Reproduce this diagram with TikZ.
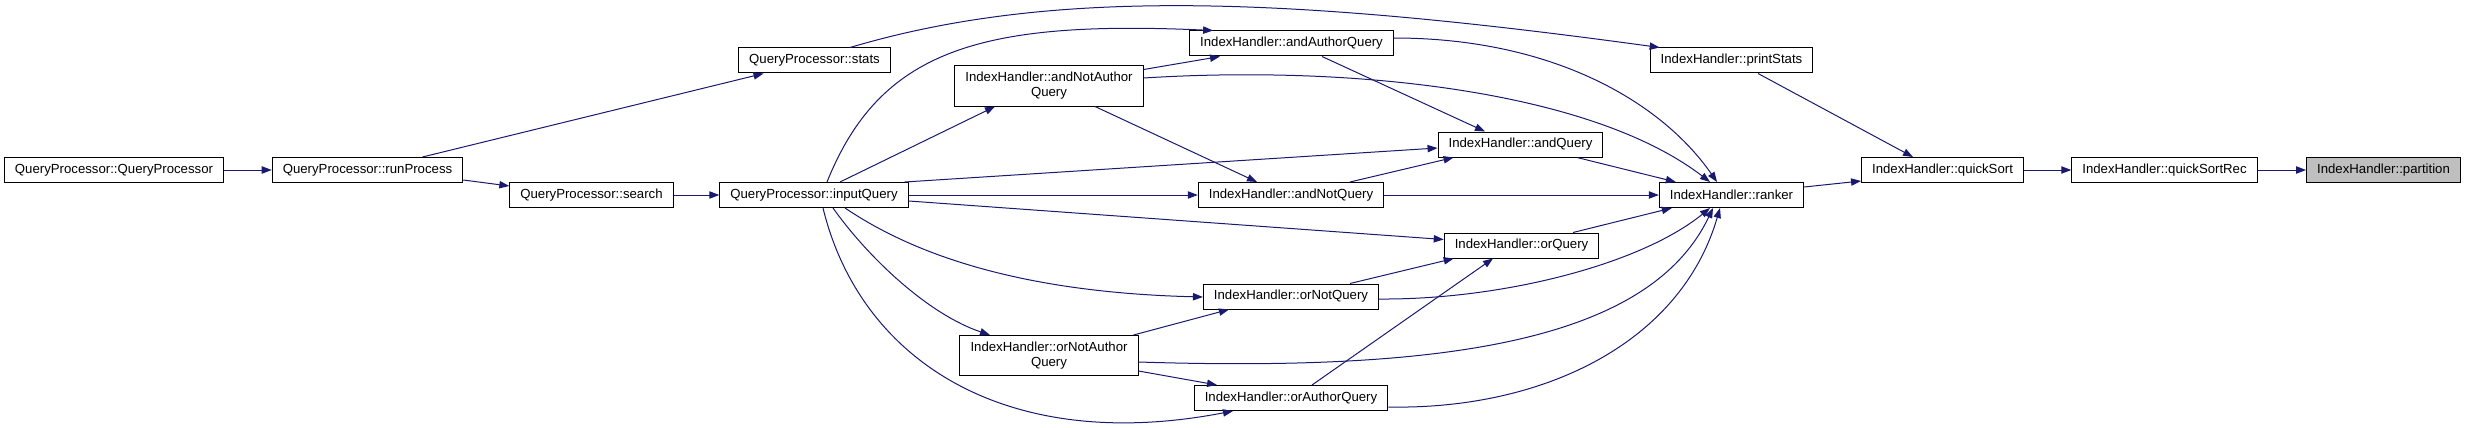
\documentclass[tikz,border=0pt]{standalone}
\usepackage{fontspec}
\setmainfont{Liberation Sans}
\usepackage{tikz}
\usetikzlibrary{arrows.meta,calc}
\definecolor{edgeblue}{HTML}{191970}
\definecolor{rootgray}{HTML}{BFBFBF}

\begin{document}
\begin{tikzpicture}[
  x=0.75pt, y=-0.75pt,
  fn/.style={draw=black, fill=white, rectangle, line width=0.75pt,
             minimum height=18.75pt, inner xsep=7.9pt, inner ysep=2pt,
             font=\fontsize{9.9}{11.25}\selectfont, align=center},
  fntwo/.style={fn, minimum height=30pt},
  arr/.style={-{Triangle[length=7.5pt,width=5.5pt]}, draw=edgeblue,
              fill=none, line width=0.75pt}
]
\useasboundingbox (0,0) rectangle (2465,428);
\node[fn]                 (QP)  at (114,170)     {QueryProcessor::QueryProcessor};
\node[fn]                 (RP)  at (367.5,170)   {QueryProcessor::runProcess};
\node[fn]                 (ST)  at (814.5,60.5)  {QueryProcessor::stats};
\node[fn]                 (SE)  at (591.5,195)   {QueryProcessor::search};
\node[fn]                 (IQ)  at (814,195)     {QueryProcessor::inputQuery};
\node[fntwo]              (ANA) at (1049,86)     {IndexHandler::andNotAuthor\\Query};
\node[fntwo]              (ONA) at (1049,355.5)  {IndexHandler::orNotAuthor\\Query};
\node[fn]                 (AA)  at (1291.5,43.5) {IndexHandler::andAuthorQuery};
\node[fn]                 (ANQ) at (1291,195)    {IndexHandler::andNotQuery};
\node[fn]                 (ONQ) at (1291,296.5)  {IndexHandler::orNotQuery};
\node[fn]                 (OA)  at (1291,398)    {IndexHandler::orAuthorQuery};
\node[fn]                 (AQ)  at (1520.5,144.5){IndexHandler::andQuery};
\node[fn]                 (OQ)  at (1521.5,245.5){IndexHandler::orQuery};
\node[fn]                 (PS)  at (1731.5,60.5) {IndexHandler::printStats};
\node[fn]                 (RK)  at (1731.5,195)  {IndexHandler::ranker};
\node[fn]                 (QS)  at (1942.5,170)  {IndexHandler::quickSort};
\node[fn]                 (QSR) at (2164.5,170)  {IndexHandler::quickSortRec};
\node[fn, fill=rootgray]  (PT)  at (2383.5,170)  {IndexHandler::partition};
\draw[arr] (QP) -- (RP);
\draw[arr] ($(RP.north)+(55,0)$) -- ($(ST.south)+(-51,0)$);
\draw[arr] ($(RP.east)+(0,10)$) -- ($(SE.west)+(0,-9)$);
\draw[arr] (SE) -- (IQ);
\draw[arr] ($(ST.north)+(35.5,0)$) .. controls (1050,-12) and (1284,-4) .. ($(PS.north west)+(10,0)$);
\draw[arr] ($(IQ.north)+(13,0)$) .. controls (880,50) and (980,20) .. ($(AA.north west)+(24,0)$);
\draw[arr] ($(IQ.north)+(26,0)$) -- ($(ANA.south)+(-54,0)$);
\draw[arr] ($(IQ.north east)+(-4,0)$) -- ($(AQ.west)+(0,3.5)$);
\draw[arr] (IQ) -- (ANQ);
\draw[arr] ($(IQ.east)+(0,6)$) -- ($(OQ.west)+(0,-6)$);
\draw[arr] ($(IQ.south)+(31,0)$) .. controls (900,245) and (1000,292) .. ($(ONQ.west)+(0,0.5)$);
\draw[arr] ($(IQ.south)+(19,0)$) .. controls (870,260) and (930,315) .. ($(ONA.north)+(-59,0)$);
\draw[arr] ($(IQ.south)+(9,0)$) .. controls (860,360) and (1005,455) .. ($(OA.south)+(-58,0)$);
\draw[arr] ($(ANA.north east)+(0,4)$) -- ($(AA.south)+(-71.5,0)$);
\draw[arr] ($(ANA.east)+(0,-8)$) .. controls (1350,65) and (1590,90) .. ($(RK.north)+(-21.5,0)$);
\draw[arr] ($(ANA.south)+(46,0)$) -- ($(ANQ.north)+(-34,0)$);
\draw[arr] ($(AA.south)+(30.5,0)$) -- ($(AQ.north)+(-35.5,0)$);
\draw[arr] ($(AA.east)+(0,-5.5)$) .. controls (1550,38) and (1660,100) .. ($(RK.north)+(-14.5,0)$);
\draw[arr] ($(AQ.south)+(56.5,0)$) -- ($(RK.north west)+(17,0)$);
\draw[arr] ($(ANQ.north)+(59,0)$) -- ($(AQ.south west)+(16,0)$);
\draw[arr] (ANQ) -- (RK);
\draw[arr] ($(OQ.north)+(51.5,0)$) -- ($(RK.south west)+(13,0)$);
\draw[arr] ($(ONQ.north)+(59,0)$) -- ($(OQ.south west)+(10,0)$);
\draw[arr] ($(ONQ.east)+(0,2.5)$) .. controls (1500,300) and (1640,265) .. ($(RK.south)+(-21.5,0)$);
\draw[arr] ($(ONA.north east)+(-5,0)$) -- ($(ONQ.south west)+(26,0)$);
\draw[arr] ($(ONA.east)+(0,6.5)$) .. controls (1450,372) and (1650,340) .. ($(RK.south)+(-18.5,0)$);
\draw[arr] ($(ONA.east)+(0,15.5)$) -- ($(OA.north)+(-74,0)$);
\draw[arr] ($(OA.north)+(21,0)$) -- ($(OQ.south)+(-28.5,0)$);
\draw[arr] ($(OA.east)+(0,9)$) .. controls (1540,410) and (1680,345) .. ($(RK.south)+(-11.5,0)$);
\draw[arr] ($(RK.east)+(0,-8)$) -- ($(QS.west)+(0,11)$);
\draw[arr] ($(PS.south)+(26.5,0)$) -- ($(QS.north)+(-29.5,0)$);
\draw[arr] (QS) -- (QSR);
\draw[arr] (QSR) -- (PT);
\end{tikzpicture}
\end{document}
